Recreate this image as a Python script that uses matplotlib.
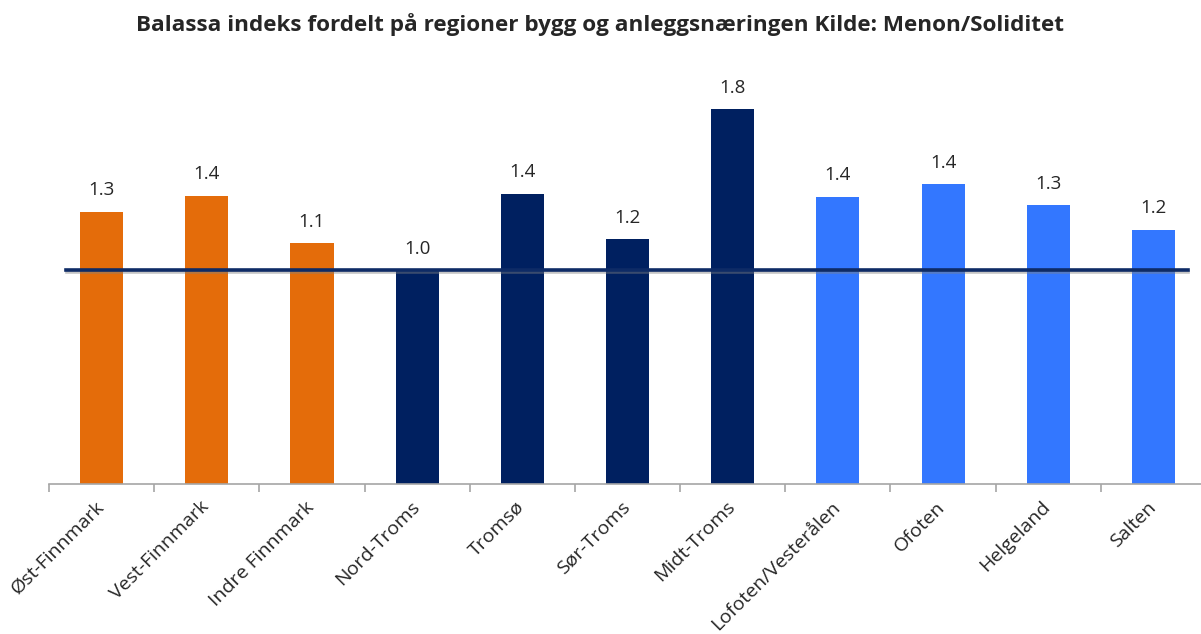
import matplotlib
matplotlib.use("Agg")
import matplotlib.pyplot as plt
import matplotlib.patheffects as pe

regioner = ["Øst-Finnmark", "Vest-Finnmark", "Indre Finnmark", "Nord-Troms", "Tromsø",
            "Sør-Troms", "Midt-Troms", "Lofoten/Vesterålen", "Ofoten", "Helgeland", "Salten"]
indeks = [1.29, 1.365, 1.14, 1.01, 1.375, 1.16, 1.775, 1.36, 1.42, 1.32, 1.205]
fylke = ["Finnmark"] * 3 + ["Troms"] * 4 + ["Nordland"] * 4
referanse = 1.015

farger = {"Finnmark": "#E46C0A", "Troms": "#002060", "Nordland": "#3377FF"}
tekstfarge = "#262626"

plt.rcParams['font.family'] = ['Open Sans', 'DejaVu Sans']

fig = plt.figure(figsize=(12.01, 6.34), dpi=100)
ax = fig.add_axes([0.0408, 0.2366, 0.9634, 0.6656])

x = list(range(len(regioner)))
ax.bar(x, indeks, width=0.41, color=[farger[f] for f in fylke], zorder=2)

for i, v in enumerate(indeks):
    ax.text(i, v + 0.06, "%.1f" % v, ha="center", va="bottom", fontsize=13.5, color=tekstfarge)

ax.axhline(referanse, xmin=0.0147, xmax=0.984, color="#0E2B66", linewidth=2.6, zorder=3,
           path_effects=[pe.SimpleLineShadow(offset=(0.5, -1.5), shadow_color="#808080", alpha=0.45),
                         pe.Normal()])

ax.set_xlim(-0.5, 10.5)
ax.set_ylim(0, 2.0)
ax.set_yticks([])
for s in ["top", "right", "left"]:
    ax.spines[s].set_visible(False)
ax.spines["bottom"].set_color("#A6A6A6")
ax.spines["bottom"].set_linewidth(1.2)

ax.set_xticks([i - 0.5 for i in range(len(regioner) + 1)], minor=False)
ax.set_xticklabels([])
ax.tick_params(axis="x", length=6, color="#A6A6A6", width=1.2)
for i, navn in enumerate(regioner):
    ax.annotate(navn, xy=(i, 0), xycoords=("data", "axes fraction"), xytext=(-5, -10),
                textcoords="offset points", rotation=45, ha="right", va="top",
                rotation_mode="anchor", fontsize=14, color=tekstfarge)

fig.text(0.5, 0.962, "Balassa indeks fordelt på regioner bygg og anleggsnæringen Kilde: Menon/Soliditet",
         ha="center", va="center", fontsize=16.2, fontweight="bold", color=tekstfarge)

fig.savefig("out.png", dpi=100)
